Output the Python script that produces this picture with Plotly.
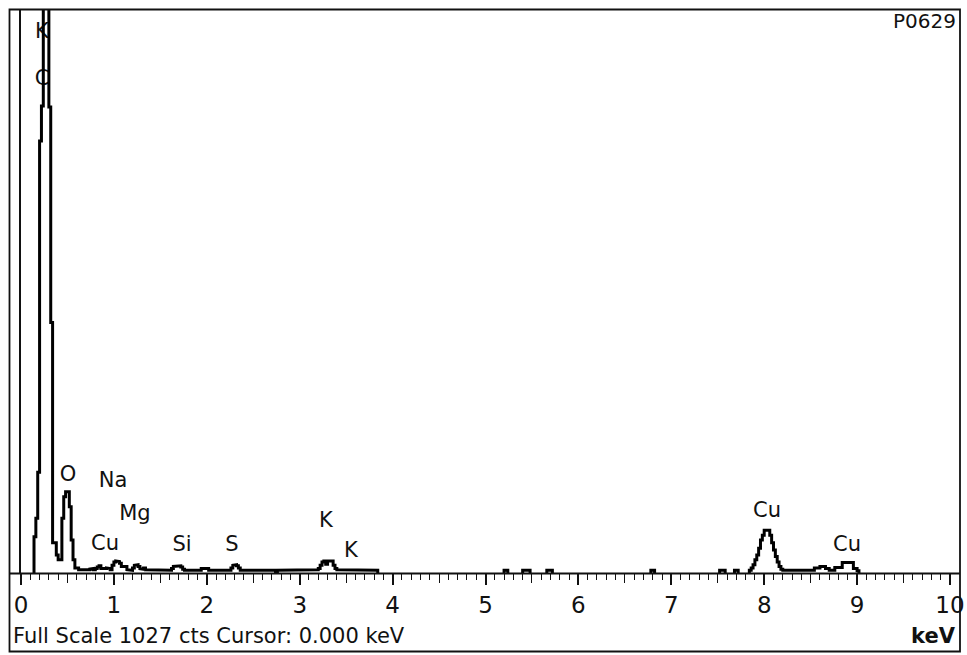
import plotly.graph_objects as go

# ---------------- data (counts per 0.02 keV channel) ----------------
CH_W = 0.02  # channel width, keV

low_start_keV = 0.14
low_counts = [
    66, 100, 184, 788, 852, 1150, 1400, 1250, 850, 457,     # 0.14-0.34
    55, 55, 33, 24, 24, 100, 139, 148, 148, 121,            # 0.34-0.54
    60, 24, 9, 9, 6, 6, 5, 6, 5, 6,                         # 0.54-0.74
    7, 8, 6, 8, 11, 13, 8, 7, 8, 9,                         # 0.74-0.94
    8, 6, 14, 20, 22, 21, 18, 12, 11, 12,                   # 0.94-1.14
    6, 5, 5, 9, 14, 15, 12, 8, 7, 9,                        # 1.14-1.34
    6, 5, 5, 5, 6, 5, 5, 5, 5, 6,                           # 1.34-1.54
    5, 5, 6, 5, 8, 12, 13, 12, 13, 11,                      # 1.54-1.74
    7, 5, 5, 5, 5, 5, 5, 5, 5, 5,                           # 1.74-1.94
    8, 9, 9, 8, 5, 5, 5, 5, 5, 5,                           # 1.94-2.14
    5, 5, 5, 5, 5, 5, 9, 14, 15, 13,                        # 2.14-2.34
    9, 5, 5, 5, 5, 5, 5, 5, 5, 5,                           # 2.34-2.54
    5, 5, 5, 5, 5, 4, 5, 5, 5, 5,                           # 2.54-2.74
    0, 5, 5, 5, 5, 5, 5, 5, 5, 5,                           # 2.74-2.94
    5, 5, 5, 5, 5, 5, 5, 5, 5, 5,                           # 2.94-3.14
    5, 5, 6, 8, 14, 20, 22, 16, 22, 21,                     # 3.14-3.34
    22, 14, 8, 6, 5, 5, 5, 5, 5, 5,                         # 3.34-3.54
    5, 5, 5, 5, 5, 5, 5, 5, 5, 5,                           # 3.54-3.74
    5, 5, 5, 5, 5,                                          # 3.74-3.84
]

dash_start_keV = [5.20, 5.40, 5.66, 6.78, 7.52, 7.68]
dash_counts = [[5, 5], [5, 5, 5, 5], [5, 5, 5], [5, 5], [5, 5, 5], [5, 5]]

cu_start_keV = 7.84
cu_counts = [
    5, 9, 15, 24, 33, 45, 60, 69, 78, 78,                   # 7.84-8.04
    78, 69, 55, 42, 30, 20, 12, 7,                          # 8.04-8.20
    5, 5, 5, 5, 5, 5, 5, 5, 5, 5, 5, 5, 5, 5, 5, 5, 5,      # 8.20-8.54
    9, 9, 9, 12, 12, 12, 8, 8, 5, 5, 5,                     # 8.54-8.76
    10, 10, 10, 10, 19, 19, 19, 19, 19, 19, 8, 8, 4,        # 8.76-9.02
]

peak_labels = ["K", "C", "O", "Na", "Mg", "Cu", "Si", "S", "K", "K", "Cu", "Cu"]
label_keV = [0.226, 0.226, 0.505, 0.99, 1.227, 0.904, 1.733, 2.271, 3.283, 3.552, 8.03, 8.891]
label_cts = [985, 899, 178, 166, 107, 51, 49, 49, 93, 38, 111, 49]

x_tick_vals = [0, 1, 2, 3, 4, 5, 6, 7, 8, 9, 10]
x_tick_text = ["0", "1", "2", "3", "4", "5", "6", "7", "8", "9", "10"]
full_scale_cts = 1027

# ---------------- build step outline ----------------
def steps(start, counts, w=CH_W):
    xs, ys = [start], [0]
    for i, c in enumerate(counts):
        e0 = round(start + i * w, 4)
        e1 = round(start + (i + 1) * w, 4)
        xs += [e0, e1]
        ys += [c, c]
    xs.append(round(start + len(counts) * w, 4))
    ys.append(0)
    return xs, ys

spec_x, spec_y = [], []
segments = [(low_start_keV, low_counts)] + list(zip(dash_start_keV, dash_counts)) + [(cu_start_keV, cu_counts)]
for s, c in segments:
    xs, ys = steps(s, c)
    spec_x += xs + [None]
    spec_y += ys + [None]

# ---------------- layout geometry (pixels) ----------------
W, H = 967, 655
L, R, T, B = 21, 17, 10, 82
PW, PH = W - L - R, H - T - B

def px(x):
    return (x - L) / PW

def py(y):
    return (H - B - y) / PH

FONT = "DejaVu Sans"

fig = go.Figure()

# labels first so the spectrum line covers them where they overlap
fig.add_trace(go.Scatter(
    x=label_keV, y=label_cts, mode="text", text=peak_labels,
    textposition="middle center",
    textfont=dict(family=FONT, size=21, color="#111"),
    hoverinfo="skip", showlegend=False, cliponaxis=False,
))

fig.add_trace(go.Scatter(
    x=spec_x, y=spec_y, mode="lines",
    line=dict(color="black", width=3),
    connectgaps=False, showlegend=False,
))

# dummy trace on overlay axis for 0.5 ticks
fig.add_trace(go.Scatter(x=[0, 10], y=[0, 0], xaxis="x2", mode="lines",
                         line=dict(width=0), showlegend=False, hoverinfo="skip"))

fig.update_layout(
    width=W, height=H, autosize=False,
    margin=dict(l=L, r=R, t=T, b=B, pad=0, autoexpand=False),
    paper_bgcolor="white", plot_bgcolor="white",
    font=dict(family=FONT, color="#111"),
    xaxis=dict(
        range=[0, 10], tickvals=x_tick_vals, ticktext=x_tick_text,
        ticks="outside", ticklen=11, tickwidth=1.6, tickcolor="#111",
        tickfont=dict(family=FONT, size=23, color="#111"),
        showgrid=False, zeroline=False, showline=False, automargin=False,
        minor=dict(dtick=0.1, tick0=0, ticks="outside", ticklen=6, tickwidth=1.3,
                   tickcolor="#111", showgrid=False),
        fixedrange=True,
    ),
    xaxis2=dict(
        range=[0, 10], overlaying="x", side="bottom", automargin=False,
        tickvals=[0.5, 1.5, 2.5, 3.5, 4.5, 5.5, 6.5, 7.5, 8.5, 9.5],
        ticks="outside", ticklen=9, tickwidth=1.3, tickcolor="#111",
        showticklabels=False, showgrid=False, zeroline=False, showline=False,
    ),
    yaxis=dict(
        range=[0, full_scale_cts], showgrid=False, zeroline=False,
        showticklabels=False, ticks="", automargin=False,
        showline=True, linecolor="#111", linewidth=1.5, mirror=False,
        fixedrange=True,
    ),
    shapes=[
        # outer frame
        dict(type="rect", xref="paper", yref="paper",
             x0=px(9.5), x1=px(960), y0=py(651.5), y1=py(9.5),
             line=dict(color="#111", width=1.8), fillcolor="rgba(0,0,0,0)", layer="above"),
        # baseline axis
        dict(type="line", xref="paper", yref="paper",
             x0=px(9.5), x1=px(960), y0=py(573.5), y1=py(573.5),
             line=dict(color="#111", width=2.2), layer="above"),
    ],
    annotations=[
        dict(text="Full Scale 1027 cts Cursor: 0.000 keV", xref="paper", yref="paper",
             x=px(11), y=py(636), xanchor="left", yanchor="middle", showarrow=False,
             font=dict(family=FONT, size=21, color="#111")),
        dict(text="<b>keV</b>", xref="paper", yref="paper",
             x=px(958), y=py(636), xanchor="right", yanchor="middle", showarrow=False,
             font=dict(family=FONT, size=21, color="#111")),
        dict(text="P0629", xref="paper", yref="paper",
             x=px(958), y=py(21), xanchor="right", yanchor="middle", showarrow=False,
             font=dict(family=FONT, size=20, color="#111")),
    ],
)

post = (
    "document.documentElement.style.margin='0';"
    "document.documentElement.style.overflow='hidden';"
    "document.body.style.margin='0';"
    "document.body.style.overflow='hidden';"
)

fig.write_html("out.html", config={"displayModeBar": False}, post_script=post)
